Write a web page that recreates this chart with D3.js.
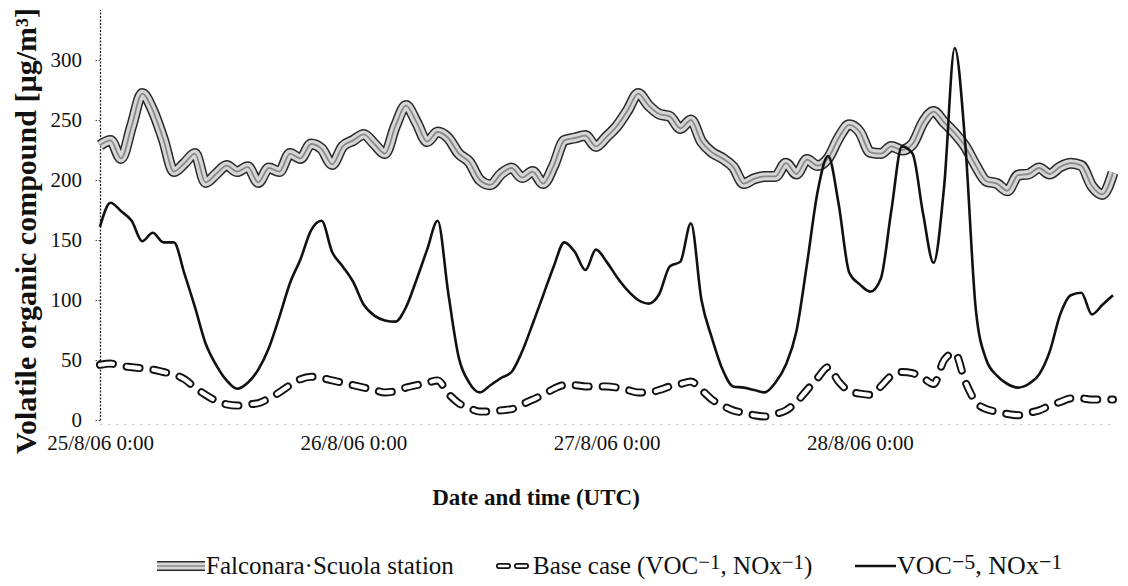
<!DOCTYPE html>
<html>
<head>
<meta charset="utf-8">
<script src="https://cdn.jsdelivr.net/npm/d3@7"></script>
<style>
  html, body { margin: 0; padding: 0; background: #fff; }
  svg { display: block; font-family: "Liberation Serif", "Times New Roman", serif; }
</style>
</head>
<body>
<svg id="chart"></svg>
<script>
// hours since 25/8/06 0:00 UTC
const hours = [
  0,1,2,3,4,5,6,7,8,9,10,11,12,13,14,15,16,17,18,19,20,21,22,23,
  24,25,26,27,28,29,30,31,32,33,34,35,36,37,38,39,40,41,42,43,44,45,46,47,
  48,49,50,51,52,53,54,55,56,57,58,59,60,61,62,63,64,65,66,67,68,69,70,71,
  72,73,74,75,76,77,78,79,80,81,82,83,84,85,86,87,88,89,90,91,92,93,94,95,96
];

const falconara = [
  229,233,218,245,272,258,234,207,214,222,198,205,212,207,211,198,210,207,222,218,230,226,213,228,
  233,238,230,222,245,262,248,232,240,235,222,215,200,196,205,210,202,207,197,212,233,235,237,228,
  236,245,258,272,262,255,253,243,250,232,223,218,211,197,201,203,203,214,205,217,212,218,235,246,
  240,223,222,228,225,230,248,257,248,239,228,212,199,197,191,204,205,210,205,211,214,212,195,188,206
];

const baseCase = [
  46,47,45,44,43,42,40,38,34,27,21,16,13,12,13,14,18,23,29,34,36,35,33,31,
  29,27,25,23,24,27,29,31,33,22,14,10,7,7,8,9,13,17,21,26,29,29,28,28,
  28,27,25,23,23,25,28,30,32,25,17,12,8,6,4,3,5,8,15,25,35,44,32,24,
  22,21,28,37,40,39,35,30,50,56,32,15,9,7,5,4,6,8,12,15,18,18,17,17,17
];

const voc5 = [
  161,181,174,166,149,156,148,148,122,94,64,46,33,26,31,42,60,86,114,134,158,166,140,128,
  115,96,87,83,82,94,117,142,166,106,52,31,23,29,35,40,57,80,104,128,148,140,125,142,
  132,119,108,100,97,105,128,132,164,100,68,42,28,27,25,23,31,46,74,130,190,220,180,123,
  113,107,118,175,228,222,172,131,195,310,230,92,50,37,30,27,30,38,57,88,104,106,88,96,104
];

const yTicks = [0, 50, 100, 150, 200, 250, 300];
const xTickHours = [0, 24, 48, 72];

const width = 1128;
const height = 586;
const start = Date.UTC(2006, 7, 25, 0, 0);
const toDate = h => new Date(start + h * 3600 * 1000);

const x = d3.scaleUtc()
  .domain([toDate(0), toDate(96)])
  .range([100, 1113]);

const y = d3.scaleLinear()
  .domain([0, 342])
  .range([420, 9.6]);

const svg = d3.select('#chart')
  .attr('width', width)
  .attr('height', height)
  .attr('viewBox', `0 0 ${width} ${height}`);

svg.append('rect').attr('width', width).attr('height', height).attr('fill', '#fff');

// x axis (faint dotted line)
const xAxis = svg.append('g')
  .attr('transform', `translate(0, ${y(0) + 4})`)
  .call(d3.axisBottom(x)
    .tickValues(xTickHours.map(toDate))
    .tickSize(0)
    .tickPadding(11)
    .tickFormat(d3.utcFormat('%-d/%-m/%y %-H:%M')));
xAxis.select('.domain')
  .attr('stroke', '#888')
  .attr('stroke-width', 1)
  .attr('stroke-dasharray', '1 7');
xAxis.selectAll('text')
  .attr('font-size', 21)
  .attr('fill', '#111')
  .attr('font-family', '"Liberation Serif", serif');

// y axis (dotted)
const yAxis = svg.append('g')
  .attr('transform', 'translate(100, 0)')
  .call(d3.axisLeft(y)
    .tickValues(yTicks)
    .tickSize(5)
    .tickSizeOuter(0)
    .tickPadding(13));
yAxis.select('.domain')
  .attr('stroke', '#222')
  .attr('stroke-width', 1.3)
  .attr('stroke-dasharray', '2 1.5');
yAxis.selectAll('.tick line')
  .attr('stroke', '#444')
  .attr('stroke-dasharray', '1.5 1.5');
yAxis.selectAll('text')
  .attr('font-size', 21)
  .attr('fill', '#111')
  .attr('font-family', '"Liberation Serif", serif');

const line = d3.line()
  .x((d, i) => x(toDate(hours[i])))
  .y(d => y(d))
  .curve(d3.curveMonotoneX);

// Falconara Scuola station: double line look
const obs = svg.append('g');
obs.append('path').datum(falconara).attr('d', line)
  .attr('fill', 'none').attr('stroke', '#2a2a2a').attr('stroke-width', 11);
obs.append('path').datum(falconara).attr('d', line)
  .attr('fill', 'none').attr('stroke', '#d6d6d6').attr('stroke-width', 8);
obs.append('path').datum(falconara).attr('d', line)
  .attr('fill', 'none').attr('stroke', '#8a8a8a').attr('stroke-width', 1.8);

// Base case: hollow dashes
const base = svg.append('g');
base.append('path').datum(baseCase).attr('d', line)
  .attr('fill', 'none').attr('stroke', '#111').attr('stroke-width', 8)
  .attr('stroke-linecap', 'round').attr('stroke-dasharray', '13 14');
base.append('path').datum(baseCase).attr('d', line)
  .attr('fill', 'none').attr('stroke', '#fff').attr('stroke-width', 4.2)
  .attr('stroke-linecap', 'round').attr('stroke-dasharray', '13 14');

// VOC-5, NOx-1
svg.append('path').datum(voc5).attr('d', line)
  .attr('fill', 'none').attr('stroke', '#111').attr('stroke-width', 2.6)
  .attr('stroke-linejoin', 'round');

// axis titles
svg.append('text')
  .attr('transform', 'translate(36, 231) rotate(-90)')
  .attr('text-anchor', 'middle')
  .attr('font-size', 30)
  .attr('font-weight', 'bold')
  .attr('fill', '#111')
  .text('Volatile organic compound [µg/m³]');

svg.append('text')
  .attr('x', 536)
  .attr('y', 505)
  .attr('text-anchor', 'middle')
  .attr('font-size', 23)
  .attr('font-weight', 'bold')
  .attr('fill', '#111')
  .text('Date and time (UTC)');

// legend
const legY = 566;
const leg = svg.append('g');
const sample = d3.line();

const s1 = [[157, legY], [205, legY]];
leg.append('path').attr('d', sample(s1)).attr('stroke', '#2a2a2a').attr('stroke-width', 10);
leg.append('path').attr('d', sample(s1)).attr('stroke', '#d6d6d6').attr('stroke-width', 7);
leg.append('path').attr('d', sample(s1)).attr('stroke', '#8a8a8a').attr('stroke-width', 1.6);
leg.append('text').attr('x', 206).attr('y', legY + 8).attr('font-size', 25).attr('fill', '#111')
  .text('Falconara·Scuola station');

const s2 = [[499, legY], [531, legY]];
leg.append('path').attr('d', sample(s2)).attr('stroke', '#111').attr('stroke-width', 6)
  .attr('stroke-linecap', 'round').attr('stroke-dasharray', '9 9');
leg.append('path').attr('d', sample(s2)).attr('stroke', '#fff').attr('stroke-width', 2.6)
  .attr('stroke-linecap', 'round').attr('stroke-dasharray', '9 9');
const t2 = leg.append('text').attr('x', 533).attr('y', legY + 8).attr('font-size', 25).attr('fill', '#111');
t2.append('tspan').text('Base case (VOC');
t2.append('tspan').attr('dy', -5).attr('font-size', 21).text('−1');
t2.append('tspan').attr('dy', 5).text(', NOx');
t2.append('tspan').attr('dy', -5).attr('font-size', 21).text('−1');
t2.append('tspan').attr('dy', 5).text(')');

const s3 = [[855, legY], [896, legY]];
leg.append('path').attr('d', sample(s3)).attr('stroke', '#111').attr('stroke-width', 2.4);
const t3 = leg.append('text').attr('x', 897).attr('y', legY + 8).attr('font-size', 26).attr('fill', '#111');
t3.append('tspan').text('VOC');
t3.append('tspan').attr('dy', -5).attr('font-size', 22).text('−5');
t3.append('tspan').attr('dy', 5).text(', NOx');
t3.append('tspan').attr('dy', -5).attr('font-size', 22).text('−1');
</script>
</body>
</html>
